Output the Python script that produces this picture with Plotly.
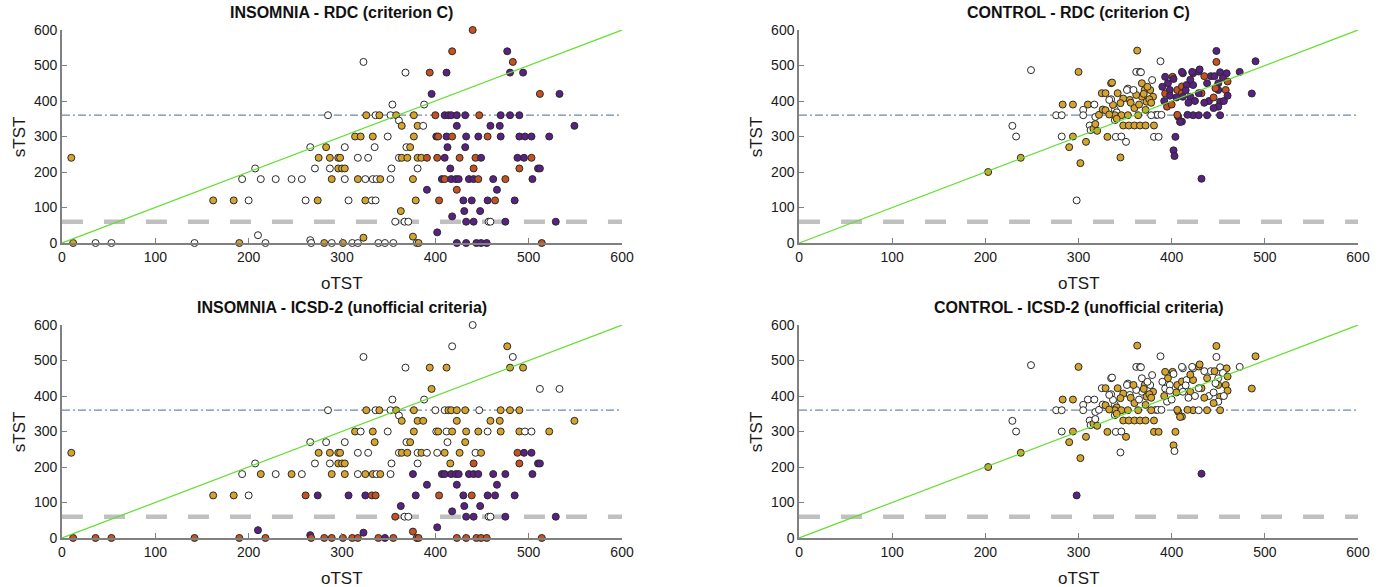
import plotly.graph_objects as go

# ---------------- data ----------------
# Insomnia group: objective TST (oTST) vs subjective TST (sTST), minutes
ins_otst = (
    [10, 12, 36, 53, 142, 190, 210, 218, 266, 267, 281, 289, 285, 266, 283, 275, 287, 296, 207, 271, 287, 296,
     193, 213, 229, 246, 257, 289, 162, 184, 200, 261, 274]
    + [440, 418, 477, 323, 483, 368, 394, 412, 480, 494, 396, 512, 533, 354, 388]
    + [326, 336, 340, 352, 358, 377, 400, 410, 414, 417, 423, 432, 447, 470, 480, 490]
    + [361, 364, 381, 387, 423, 459, 469, 549]
    + [314, 320, 333, 349, 377, 401, 403, 412, 418, 433, 446, 456, 470, 490, 496, 503, 522]
    + [303, 335, 369, 373, 413, 432]
    + [298, 317, 328, 361, 364, 370, 381, 385, 391, 402, 410, 426, 443, 449, 488, 495, 503]
    + [300, 303, 353, 381, 416, 441, 490, 510, 512]
    + [303, 317, 325, 333, 337, 341, 352, 376, 407, 410, 417, 422, 425, 436, 441, 446, 462, 475, 504]
    + [391, 423, 466]
    + [307, 325, 332, 336, 379, 404, 430, 439, 456, 464, 485]
    + [363, 431, 448, 418]
    + [357, 367, 371, 433, 441, 457, 459, 475, 529, 402]
    + [301, 311, 317, 323, 339, 346, 355, 376, 380, 382, 423, 433, 444, 449, 455, 514]
)
ins_stst = (
    [240, 0, 0, 0, 0, 0, 22, 0, 8, 0, 0, 0, 360, 270, 270, 240, 240, 240, 210, 210, 210, 210,
     180, 180, 180, 180, 180, 180, 120, 120, 120, 120, 120]
    + [600, 540, 540, 510, 510, 480, 480, 480, 480, 480, 420, 420, 420, 390, 390]
    + [360] * 16
    + [345, 330, 330, 330, 330, 330, 330, 330]
    + [300] * 17
    + [270] * 6
    + [240] * 17
    + [210] * 9
    + [180] * 19
    + [150] * 3
    + [120] * 11
    + [90, 90, 90, 75]
    + [60, 60, 60, 60, 60, 60, 60, 60, 60, 30]
    + [0, 0, 0, 15, 0, 0, 0, 18, 0, 0, 0, 0, 0, 0, 0, 0]
)
# classification codes: W = white, G = gold, R = red, P = purple
ins_rdc = (
    list("GGWWWGWWWWGWWWGGGGWWWGWWWWWGGGWWG")
    + list("RRPWRWRPPPPRPWW")
    + list("GWGWGGRPPPPPRPPP")
    + list("WGGWPPPP")
    + list("GGGWGPRPRPPRPPPPP")
    + list("WWWGPP")
    + list("GWWWGGGGRRPRRPPPR")
    + list("GGWWPRRPP")
    + list("WGWWWGWGPRPPPPPRPRP")
    + list("PRP")
    + list("WGWWGRPPPRP")
    + list("GPPP")
    + list("WWWPPWWPPP")
    + list("GWWGWWWGWGPPPPPR")
)
ins_icsd = (
    list("GRRRRRPRPRRRWWWGGGWWWGWGWGWGGGWRP")
    + list("WWGWWWGGGGGWWWW")
    + list("GWGWGGWWGGGGWGGG")
    + list("WGGGGGGG")
    + list("GWGWGWGWGGGWGGWWG")
    + list("WGWGWG")
    + list("GWWWGGWGWWGGWGRPP")
    + list("GGWWGRRPP")
    + list("GWGGWGWPPPPPPPPPPPP")
    + list("PPP")
    + list("PPRRPRPRPPP")
    + list("PPPP")
    + list("RWWPPWWPPP")
    + list("RRRPRPRRRRRRRRRR")
)

# Control group
ctrl_otst = [203, 238, 249, 229, 233, 298, 300, 302, 290, 294, 282, 308, 276, 282, 283, 294, 310, 317, 305, 305,
             312, 313, 316, 318, 322, 326, 325, 329, 335, 335, 339, 339, 340, 331, 345, 351, 348, 354, 360, 366,
             353, 362, 366, 363, 388, 381, 386, 381, 383, 385, 379, 367, 368, 371, 377, 380, 368, 373, 362, 355,
             348, 345, 337, 336, 352, 359, 333, 341, 339, 346, 353, 364, 378, 346, 372, 356, 360, 365, 370, 374,
             376, 372, 378, 342, 329, 333, 341, 320, 318, 389, 395, 393, 401, 393, 402, 412, 423, 429, 452, 459,
             398, 396, 406, 411, 411, 432, 416, 423, 412, 420, 429, 438, 407, 411, 423, 429, 438, 417, 450, 450,
             452, 450, 452, 447, 458, 442, 446, 404, 402, 403, 432, 448, 448, 406, 409, 411, 422, 430, 473, 486,
             490, 460, 456, 440, 445, 435, 425, 418, 415, 405, 398, 392, 390, 420, 435, 455, 460, 445, 400]
ctrl_stst = [200, 240, 487, 330, 300, 120, 482, 225, 270, 300, 300, 285, 360, 360, 390, 390, 390, 390, 375, 360,
             331, 318, 322, 355, 361, 376, 422, 422, 450, 405, 376, 346, 299, 299, 241, 285, 331, 331, 331, 331,
             435, 482, 482, 542, 512, 299, 299, 331, 361, 361, 459, 481, 450, 431, 431, 412, 412, 398, 417, 403,
             407, 394, 389, 452, 431, 431, 403, 368, 360, 360, 360, 360, 360, 300, 331, 395, 380, 390, 420, 440,
             405, 375, 395, 422, 374, 362, 350, 316, 335, 361, 384, 421, 468, 468, 462, 478, 478, 483, 481, 478,
             431, 450, 431, 422, 441, 422, 445, 445, 412, 412, 422, 450, 356, 342, 360, 360, 360, 361, 450, 431,
             398, 384, 360, 436, 431, 470, 470, 299, 261, 245, 181, 541, 510, 361, 341, 482, 482, 489, 482, 421,
             512, 415, 400, 400, 380, 395, 400, 395, 430, 410, 415, 400, 440, 460, 470, 465, 455, 410, 390]
ctrl_rdc = list(
    "GGWWWWGGGGWGWWGGGWWW"
    "WWGWGGGGGWWWWGGWGGGG"
    "WWWGWWWGWWWWGGGGGGGG"
    "GGGGWWWWGGGGWWGGGGGG"
    "GGGGGGGGGWRRRPPPPPPP"
    "PPRRRRPPPPPPPPPPPPPP"
    "PPPRRPPPPPPPRRPPPPPP"
    "PPPPPPPPPPPPPPRPRRR"
)
ctrl_icsd = list(
    "GGWWWPGGGGWGWWGGWWWW"
    "WWGWWWWGWWWWWGWGGGGG"
    "WWWGWGGGWWWWWGWGWGWW"
    "GGWWWGWGGGGGGWGGGWGW"
    "GGGGGGGGWWWWGGWWWGWG"
    "WGGWGGWGWGWGGGGWGGWG"
    "GWGWGWGGGWPGWGGWWGWG"
    "GGWWGGWWWGWGWGWWGWW"
)
assert len(ins_otst) == len(ins_stst) == len(ins_rdc) == len(ins_icsd)
assert len(ctrl_otst) == len(ctrl_stst) == len(ctrl_rdc) == len(ctrl_icsd)

panel_titles = ["INSOMNIA - RDC (criterion C)", "CONTROL - RDC (criterion C)",
                "INSOMNIA - ICSD-2 (unofficial criteria)", "CONTROL - ICSD-2 (unofficial criteria)"]
axis_ticks = [0, 100, 200, 300, 400, 500, 600]
identity_line = [0, 600]
thresholds = {"sleep": 360, "low": 60}

# ---------------- styling ----------------
COLORS = {"W": "#ffffff", "G": "#D6A42C", "R": "#C65220", "P": "#5A2083"}
AX_COLOR = "#808080"
FONT = "Liberation Sans, Arial, sans-serif"

x_domains = {"L": [0.0447, 0.4488], "R": [0.5765, 0.9798]}
y_domains = {"T": [0.586, 0.9489], "B": [0.0835, 0.4463]}

panels = [
    (panel_titles[0], ins_otst, ins_stst, ins_rdc, "L", "T"),
    (panel_titles[1], ctrl_otst, ctrl_stst, ctrl_rdc, "R", "T"),
    (panel_titles[2], ins_otst, ins_stst, ins_icsd, "L", "B"),
    (panel_titles[3], ctrl_otst, ctrl_stst, ctrl_icsd, "R", "B"),
]

fig = go.Figure()
layout_axes = {}
annotations = []
shapes = []

for i, (title, xs, ys, codes, hx, vy) in enumerate(panels, start=1):
    sfx = "" if i == 1 else str(i)
    xref, yref = "x" + sfx, "y" + sfx
    fig.add_trace(go.Scatter(
        x=xs, y=ys, mode="markers", xaxis=xref, yaxis=yref, cliponaxis=False,
        marker=dict(size=7, color=[COLORS[c] for c in codes],
                    line=dict(color="#2a2a2a", width=1)),
        showlegend=False, hoverinfo="x+y"))
    fig.add_trace(go.Scatter(
        x=identity_line, y=identity_line, mode="lines", xaxis=xref, yaxis=yref,
        line=dict(color="#5EE02C", width=1.2), showlegend=False, hoverinfo="skip"))

    common = dict(range=[axis_ticks[0], axis_ticks[-1]], showline=True, linecolor=AX_COLOR, linewidth=1.5,
                  ticks="inside", ticklen=5, tickwidth=1, tickcolor=AX_COLOR, tickvals=axis_ticks,
                  showgrid=False, zeroline=False, automargin=False,
                  tickfont=dict(family=FONT, size=14, color="#1a1a1a"))
    layout_axes["xaxis" + sfx] = dict(common, domain=x_domains[hx], anchor=yref)
    layout_axes["yaxis" + sfx] = dict(common, domain=y_domains[vy], anchor=xref)

    shapes.append(dict(type="line", xref=xref, yref=yref, x0=axis_ticks[0], x1=axis_ticks[-1],
                       y0=thresholds["sleep"], y1=thresholds["sleep"], layer="below",
                       line=dict(color="#6f8aa6", width=1.2, dash="8px,3px,2px,3px")))
    shapes.append(dict(type="line", xref=xref, yref=yref, x0=axis_ticks[0], x1=axis_ticks[-1],
                       y0=thresholds["low"], y1=thresholds["low"], layer="below",
                       line=dict(color="#c0c0c0", width=4.5, dash="21px,21px")))

    xc = sum(x_domains[hx]) / 2
    ytop = y_domains[vy][1]
    annotations.append(dict(text="<b>%s</b>" % title, x=xc, y=ytop + 0.03, xref="paper", yref="paper",
                            showarrow=False, font=dict(family=FONT, size=16, color="#111"),
                            xanchor="center", yanchor="middle"))
    annotations.append(dict(text="oTST", x=xc, y=y_domains[vy][0] - 0.069, xref="paper", yref="paper",
                            showarrow=False, font=dict(family=FONT, size=17, color="#1a1a1a"),
                            xanchor="center", yanchor="middle"))
    annotations.append(dict(text="sTST", x=x_domains[hx][0] - 0.0305, y=sum(y_domains[vy]) / 2,
                            xref="paper", yref="paper", textangle=-90, showarrow=False,
                            font=dict(family=FONT, size=17, color="#1a1a1a"),
                            xanchor="center", yanchor="middle"))

fig.update_layout(
    width=1386, height=587, margin=dict(l=0, r=0, t=0, b=0, autoexpand=False),
    paper_bgcolor="white", plot_bgcolor="white",
    annotations=annotations, shapes=shapes, **layout_axes)

fig.write_html("out.html", post_script="document.body.style.margin='0';document.body.style.overflow='hidden';")
